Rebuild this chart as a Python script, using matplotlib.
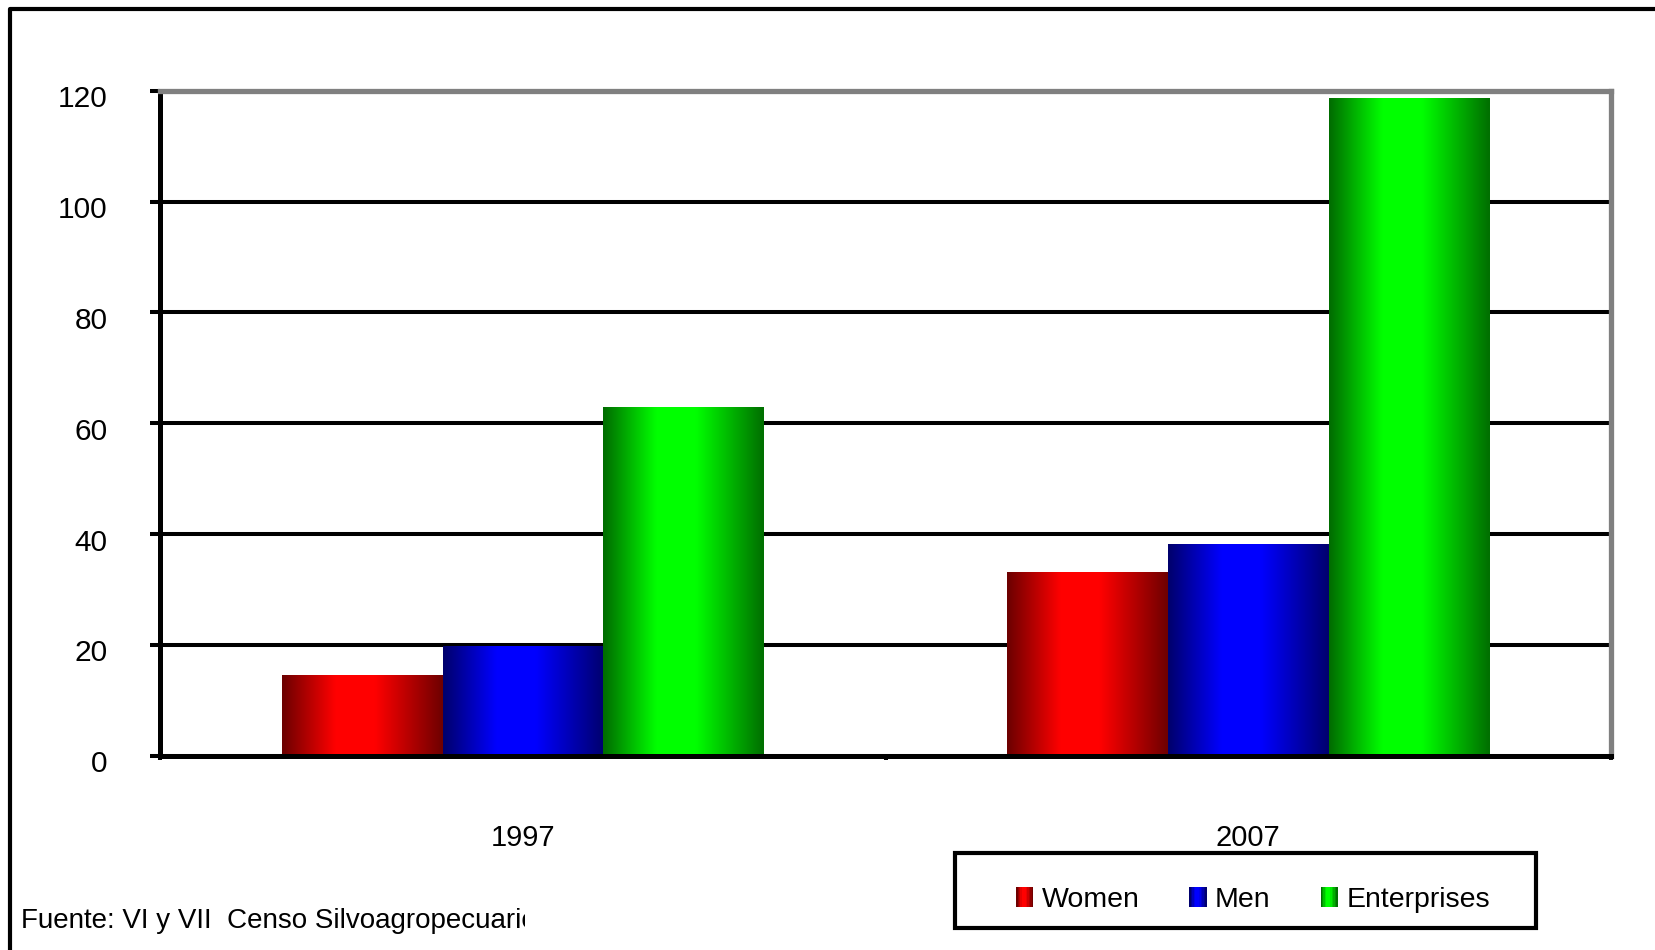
import numpy as np
import matplotlib
matplotlib.use("Agg")
import matplotlib.pyplot as plt
from matplotlib.patches import Rectangle
from matplotlib.lines import Line2D
from matplotlib.legend_handler import HandlerBase
from matplotlib.transforms import Bbox, ScaledTranslation

plt.rcParams['font.family'] = ['Liberation Sans', 'DejaVu Sans']

categories = ['1997', '2007']
women = [14.5, 33.1]
men = [19.8, 38.3]
enterprises = [63.0, 118.7]
series_names = ['Women', 'Men', 'Enterprises']
base_colors = [(1, 0, 0), (0, 0, 1), (0, 1, 0)]
yticks = [0, 20, 40, 60, 80, 100, 120]
source = 'Fuente: VI y VII  Censo Silvoagropecuario'

# shading across a bar: dark edges, bright middle
def shade(rgb, n=64):
    t = np.linspace(0, 1, n)
    k = np.interp(t, [0, 0.33, 0.58, 1], [0.43, 1, 1, 0.44])
    return np.array([[np.array(rgb) * v for v in k]])


class GradientHandler(HandlerBase):
    def __init__(self, rgb):
        super().__init__()
        self.rgb = rgb

    def create_artists(self, legend, orig_handle, xdescent, ydescent,
                       width, height, fontsize, trans):
        cols = shade(self.rgb, 12)[0]
        n = len(cols)
        arts = []
        for i, c in enumerate(cols):
            r = Rectangle((-xdescent + width * i / n, -ydescent), width / n * 1.05, height,
                          facecolor=c, edgecolor='none', transform=trans)
            arts.append(r)
        return arts


fig = plt.figure(figsize=(16.56, 9.5), dpi=100)
ax = fig.add_axes([0.0969, 0.2044, 0.8757, 0.70])

x = np.arange(len(categories))
w = 0.222
values = [women, men, enterprises]
handles = []
for i, (vals, name, rgb) in enumerate(zip(values, series_names, base_colors)):
    bars = ax.bar(x + (i - 1) * w, vals, w, color=rgb, label=name, zorder=3, linewidth=0)
    handles.append(bars)
    for b in bars:
        x0, y0 = b.get_x(), b.get_y()
        im = ax.imshow(shade(rgb), extent=[x0, x0 + b.get_width(), y0, y0 + b.get_height()],
                       aspect='auto', zorder=3.5, interpolation='bilinear')
        im.set_clip_path(b)

ax.set_xlim(-0.5, 1.5)
ax.set_ylim(0, 120)
ax.set_aspect('auto')

ax.set_yticks(yticks)
ax.set_yticklabels([str(v) for v in yticks])
ax.yaxis.grid(True, color='black', linewidth=2.9)
ax.set_axisbelow(True)
ax.tick_params(axis='y', direction='out', length=7, width=2.9, pad=31, labelsize=21.5)
shift = ScaledTranslation(0, -0.055, fig.dpi_scale_trans)
for lab in ax.get_yticklabels():
    lab.set_transform(lab.get_transform() + shift)

ax.set_xticks([-0.5, 0.5, 1.5])
ax.set_xticklabels([])
ax.tick_params(axis='x', which='major', direction='out', length=3, width=2.9)
ax.set_xticks(x, minor=True)
ax.set_xticklabels(categories, minor=True)
ax.tick_params(axis='x', which='minor', length=0, pad=49, labelsize=21)

for s in ['left', 'bottom']:
    ax.spines[s].set_color('black')
    ax.spines[s].set_linewidth(3.6)
for s in ['top', 'right']:
    ax.spines[s].set_color('#808080')
    ax.spines[s].set_linewidth(3.8)
ax.spines['bottom'].set_zorder(5)

# legend (frame drawn separately)
leg = fig.legend(handles, series_names, loc='center', bbox_to_anchor=(0.7566, 0.0530),
                 ncol=3, frameon=False, fontsize=20.5, handlelength=0.6, handleheight=0.7,
                 handletextpad=0.3, columnspacing=1.75,
                 handler_map={h: GradientHandler(c) for h, c in zip(handles, base_colors)})
fig.add_artist(Rectangle((955 / 1656, 1 - 928 / 950), 581 / 1656, 75 / 950,
                         transform=fig.transFigure, fill=False, edgecolor='black',
                         linewidth=3.0))

# outer frame (left and top)
fig.add_artist(Line2D([10 / 1656, 10 / 1656, 1.0], [0.0, 1 - 9 / 950, 1 - 9 / 950],
                      transform=fig.transFigure, color='black', linewidth=3.0))

t = fig.text(21 / 1656, 1 - 921 / 950, source, fontsize=20, va='center', ha='left')
t.set_clip_box(Bbox([[0, 0], [525, 950]]))
t.set_clip_on(True)

fig.savefig('out.png', dpi=100)
